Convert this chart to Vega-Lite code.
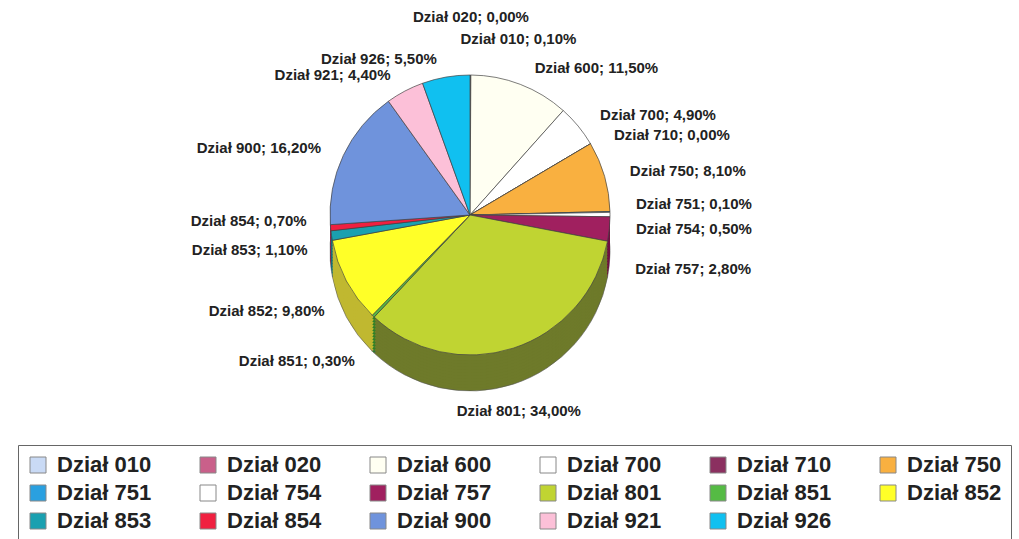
{
  "$schema": "https://vega.github.io/schema/vega-lite/v6.json",
  "width": 940,
  "height": 430,
  "autosize": {"type": "none"},
  "padding": {"left": 0, "top": 0, "right": 79, "bottom": 109},
  "background": "white",
  "config": {"view": {"stroke": null}},
  "data": {
    "values": [
      {"Dział": "Dział 010", "value": 0.1, "label": "Dział 010; 0,10%"},
      {"Dział": "Dział 020", "value": 0.0, "label": "Dział 020; 0,00%"},
      {"Dział": "Dział 600", "value": 11.5, "label": "Dział 600; 11,50%"},
      {"Dział": "Dział 700", "value": 4.9, "label": "Dział 700; 4,90%"},
      {"Dział": "Dział 710", "value": 0.0, "label": "Dział 710; 0,00%"},
      {"Dział": "Dział 750", "value": 8.1, "label": "Dział 750; 8,10%"},
      {"Dział": "Dział 751", "value": 0.1, "label": "Dział 751; 0,10%"},
      {"Dział": "Dział 754", "value": 0.5, "label": "Dział 754; 0,50%"},
      {"Dział": "Dział 757", "value": 2.8, "label": "Dział 757; 2,80%"},
      {"Dział": "Dział 801", "value": 34.0, "label": "Dział 801; 34,00%"},
      {"Dział": "Dział 851", "value": 0.3, "label": "Dział 851; 0,30%"},
      {"Dział": "Dział 852", "value": 9.8, "label": "Dział 852; 9,80%"},
      {"Dział": "Dział 853", "value": 1.1, "label": "Dział 853; 1,10%"},
      {"Dział": "Dział 854", "value": 0.7, "label": "Dział 854; 0,70%"},
      {"Dział": "Dział 900", "value": 16.2, "label": "Dział 900; 16,20%"},
      {"Dział": "Dział 921", "value": 4.4, "label": "Dział 921; 4,40%"},
      {"Dział": "Dział 926", "value": 5.5, "label": "Dział 926; 5,50%"}
    ]
  },
  "resolve": {"scale": {"color": "independent"}},
  "layer": [
    {"mark": {"type": "arc", "outerRadius": 140, "yOffset": 36, "stroke": "#555", "strokeWidth": 0.6},
     "encoding": {"theta": {"field": "value", "type": "quantitative", "stack": true}, "order": {"field": "Dział", "type": "ordinal", "sort": "ascending"},
       "color": {"field": "Dział", "type": "nominal", "legend": null, "scale": {"domain": ["Dział 010","Dział 020","Dział 600","Dział 700","Dział 710","Dział 750","Dział 751","Dział 754","Dział 757","Dział 801","Dział 851","Dział 852","Dział 853","Dział 854","Dział 900","Dział 921","Dział 926"], "range": ["#8c9ab0","#8a4060","#b8b8a8","#b8b8b8","#5a1a3e","#b07a28","#1a70a0","#b8b8b8","#701040","#6e7a2a","#2f8028","#c0b830","#107080","#a01028","#4a66a0","#c090a8","#0a88b0"]}}}},
    {"mark": {"type": "arc", "outerRadius": 140, "yOffset": 33, "strokeWidth": 0},
     "encoding": {"theta": {"field": "value", "type": "quantitative", "stack": true}, "order": {"field": "Dział", "type": "ordinal", "sort": "ascending"},
       "color": {"field": "Dział", "type": "nominal", "legend": null, "scale": {"domain": ["Dział 010","Dział 020","Dział 600","Dział 700","Dział 710","Dział 750","Dział 751","Dział 754","Dział 757","Dział 801","Dział 851","Dział 852","Dział 853","Dział 854","Dział 900","Dział 921","Dział 926"], "range": ["#8c9ab0","#8a4060","#b8b8a8","#b8b8b8","#5a1a3e","#b07a28","#1a70a0","#b8b8b8","#701040","#6e7a2a","#2f8028","#c0b830","#107080","#a01028","#4a66a0","#c090a8","#0a88b0"]}}}},
    {"mark": {"type": "arc", "outerRadius": 140, "yOffset": 30, "strokeWidth": 0},
     "encoding": {"theta": {"field": "value", "type": "quantitative", "stack": true}, "order": {"field": "Dział", "type": "ordinal", "sort": "ascending"},
       "color": {"field": "Dział", "type": "nominal", "legend": null, "scale": {"domain": ["Dział 010","Dział 020","Dział 600","Dział 700","Dział 710","Dział 750","Dział 751","Dział 754","Dział 757","Dział 801","Dział 851","Dział 852","Dział 853","Dział 854","Dział 900","Dział 921","Dział 926"], "range": ["#8c9ab0","#8a4060","#b8b8a8","#b8b8b8","#5a1a3e","#b07a28","#1a70a0","#b8b8b8","#701040","#6e7a2a","#2f8028","#c0b830","#107080","#a01028","#4a66a0","#c090a8","#0a88b0"]}}}},
    {"mark": {"type": "arc", "outerRadius": 140, "yOffset": 27, "strokeWidth": 0},
     "encoding": {"theta": {"field": "value", "type": "quantitative", "stack": true}, "order": {"field": "Dział", "type": "ordinal", "sort": "ascending"},
       "color": {"field": "Dział", "type": "nominal", "legend": null, "scale": {"domain": ["Dział 010","Dział 020","Dział 600","Dział 700","Dział 710","Dział 750","Dział 751","Dział 754","Dział 757","Dział 801","Dział 851","Dział 852","Dział 853","Dział 854","Dział 900","Dział 921","Dział 926"], "range": ["#8c9ab0","#8a4060","#b8b8a8","#b8b8b8","#5a1a3e","#b07a28","#1a70a0","#b8b8b8","#701040","#6e7a2a","#2f8028","#c0b830","#107080","#a01028","#4a66a0","#c090a8","#0a88b0"]}}}},
    {"mark": {"type": "arc", "outerRadius": 140, "yOffset": 24, "strokeWidth": 0},
     "encoding": {"theta": {"field": "value", "type": "quantitative", "stack": true}, "order": {"field": "Dział", "type": "ordinal", "sort": "ascending"},
       "color": {"field": "Dział", "type": "nominal", "legend": null, "scale": {"domain": ["Dział 010","Dział 020","Dział 600","Dział 700","Dział 710","Dział 750","Dział 751","Dział 754","Dział 757","Dział 801","Dział 851","Dział 852","Dział 853","Dział 854","Dział 900","Dział 921","Dział 926"], "range": ["#8c9ab0","#8a4060","#b8b8a8","#b8b8b8","#5a1a3e","#b07a28","#1a70a0","#b8b8b8","#701040","#6e7a2a","#2f8028","#c0b830","#107080","#a01028","#4a66a0","#c090a8","#0a88b0"]}}}},
    {"mark": {"type": "arc", "outerRadius": 140, "yOffset": 21, "strokeWidth": 0},
     "encoding": {"theta": {"field": "value", "type": "quantitative", "stack": true}, "order": {"field": "Dział", "type": "ordinal", "sort": "ascending"},
       "color": {"field": "Dział", "type": "nominal", "legend": null, "scale": {"domain": ["Dział 010","Dział 020","Dział 600","Dział 700","Dział 710","Dział 750","Dział 751","Dział 754","Dział 757","Dział 801","Dział 851","Dział 852","Dział 853","Dział 854","Dział 900","Dział 921","Dział 926"], "range": ["#8c9ab0","#8a4060","#b8b8a8","#b8b8b8","#5a1a3e","#b07a28","#1a70a0","#b8b8b8","#701040","#6e7a2a","#2f8028","#c0b830","#107080","#a01028","#4a66a0","#c090a8","#0a88b0"]}}}},
    {"mark": {"type": "arc", "outerRadius": 140, "yOffset": 18, "strokeWidth": 0},
     "encoding": {"theta": {"field": "value", "type": "quantitative", "stack": true}, "order": {"field": "Dział", "type": "ordinal", "sort": "ascending"},
       "color": {"field": "Dział", "type": "nominal", "legend": null, "scale": {"domain": ["Dział 010","Dział 020","Dział 600","Dział 700","Dział 710","Dział 750","Dział 751","Dział 754","Dział 757","Dział 801","Dział 851","Dział 852","Dział 853","Dział 854","Dział 900","Dział 921","Dział 926"], "range": ["#8c9ab0","#8a4060","#b8b8a8","#b8b8b8","#5a1a3e","#b07a28","#1a70a0","#b8b8b8","#701040","#6e7a2a","#2f8028","#c0b830","#107080","#a01028","#4a66a0","#c090a8","#0a88b0"]}}}},
    {"mark": {"type": "arc", "outerRadius": 140, "yOffset": 15, "strokeWidth": 0},
     "encoding": {"theta": {"field": "value", "type": "quantitative", "stack": true}, "order": {"field": "Dział", "type": "ordinal", "sort": "ascending"},
       "color": {"field": "Dział", "type": "nominal", "legend": null, "scale": {"domain": ["Dział 010","Dział 020","Dział 600","Dział 700","Dział 710","Dział 750","Dział 751","Dział 754","Dział 757","Dział 801","Dział 851","Dział 852","Dział 853","Dział 854","Dział 900","Dział 921","Dział 926"], "range": ["#8c9ab0","#8a4060","#b8b8a8","#b8b8b8","#5a1a3e","#b07a28","#1a70a0","#b8b8b8","#701040","#6e7a2a","#2f8028","#c0b830","#107080","#a01028","#4a66a0","#c090a8","#0a88b0"]}}}},
    {"mark": {"type": "arc", "outerRadius": 140, "yOffset": 12, "strokeWidth": 0},
     "encoding": {"theta": {"field": "value", "type": "quantitative", "stack": true}, "order": {"field": "Dział", "type": "ordinal", "sort": "ascending"},
       "color": {"field": "Dział", "type": "nominal", "legend": null, "scale": {"domain": ["Dział 010","Dział 020","Dział 600","Dział 700","Dział 710","Dział 750","Dział 751","Dział 754","Dział 757","Dział 801","Dział 851","Dział 852","Dział 853","Dział 854","Dział 900","Dział 921","Dział 926"], "range": ["#8c9ab0","#8a4060","#b8b8a8","#b8b8b8","#5a1a3e","#b07a28","#1a70a0","#b8b8b8","#701040","#6e7a2a","#2f8028","#c0b830","#107080","#a01028","#4a66a0","#c090a8","#0a88b0"]}}}},
    {"mark": {"type": "arc", "outerRadius": 140, "yOffset": 9, "strokeWidth": 0},
     "encoding": {"theta": {"field": "value", "type": "quantitative", "stack": true}, "order": {"field": "Dział", "type": "ordinal", "sort": "ascending"},
       "color": {"field": "Dział", "type": "nominal", "legend": null, "scale": {"domain": ["Dział 010","Dział 020","Dział 600","Dział 700","Dział 710","Dział 750","Dział 751","Dział 754","Dział 757","Dział 801","Dział 851","Dział 852","Dział 853","Dział 854","Dział 900","Dział 921","Dział 926"], "range": ["#8c9ab0","#8a4060","#b8b8a8","#b8b8b8","#5a1a3e","#b07a28","#1a70a0","#b8b8b8","#701040","#6e7a2a","#2f8028","#c0b830","#107080","#a01028","#4a66a0","#c090a8","#0a88b0"]}}}},
    {"mark": {"type": "arc", "outerRadius": 140, "yOffset": 6, "strokeWidth": 0},
     "encoding": {"theta": {"field": "value", "type": "quantitative", "stack": true}, "order": {"field": "Dział", "type": "ordinal", "sort": "ascending"},
       "color": {"field": "Dział", "type": "nominal", "legend": null, "scale": {"domain": ["Dział 010","Dział 020","Dział 600","Dział 700","Dział 710","Dział 750","Dział 751","Dział 754","Dział 757","Dział 801","Dział 851","Dział 852","Dział 853","Dział 854","Dział 900","Dział 921","Dział 926"], "range": ["#8c9ab0","#8a4060","#b8b8a8","#b8b8b8","#5a1a3e","#b07a28","#1a70a0","#b8b8b8","#701040","#6e7a2a","#2f8028","#c0b830","#107080","#a01028","#4a66a0","#c090a8","#0a88b0"]}}}},
    {"mark": {"type": "arc", "outerRadius": 140, "yOffset": 3, "strokeWidth": 0},
     "encoding": {"theta": {"field": "value", "type": "quantitative", "stack": true}, "order": {"field": "Dział", "type": "ordinal", "sort": "ascending"},
       "color": {"field": "Dział", "type": "nominal", "legend": null, "scale": {"domain": ["Dział 010","Dział 020","Dział 600","Dział 700","Dział 710","Dział 750","Dział 751","Dział 754","Dział 757","Dział 801","Dział 851","Dział 852","Dział 853","Dział 854","Dział 900","Dział 921","Dział 926"], "range": ["#8c9ab0","#8a4060","#b8b8a8","#b8b8b8","#5a1a3e","#b07a28","#1a70a0","#b8b8b8","#701040","#6e7a2a","#2f8028","#c0b830","#107080","#a01028","#4a66a0","#c090a8","#0a88b0"]}}}},
    {"mark": {"type": "arc", "outerRadius": 140, "stroke": "#444", "strokeWidth": 0.7},
     "encoding": {"theta": {"field": "value", "type": "quantitative", "stack": true}, "order": {"field": "Dział", "type": "ordinal", "sort": "ascending"},
       "color": {"field": "Dział", "type": "nominal",
         "scale": {"domain": ["Dział 010","Dział 020","Dział 600","Dział 700","Dział 710","Dział 750","Dział 751","Dział 754","Dział 757","Dział 801","Dział 851","Dział 852","Dział 853","Dział 854","Dział 900","Dział 921","Dział 926"], "range": ["#c9daf5","#c9608a","#fffff2","#ffffff","#8b3060","#f9b040","#2aa0e0","#ffffff","#a0205f","#c0d432","#55bb44","#ffff28","#1aa0b0","#f02040","#6f93dc","#fcc0d8","#10c0f0"]},
         "legend": {"title": null, "orient": "none", "direction": "horizontal", "legendX": 18, "legendY": 445, "columns": 6, "gridAlign": "all", "symbolType": "square", "symbolSize": 256, "symbolStrokeColor": "#888", "symbolStrokeWidth": 1, "symbolOpacity": 1, "labelFont": "Liberation Sans", "labelFontSize": 22, "labelFontWeight": "bold", "labelColor": "#222", "labelOffset": 8, "labelLimit": 300, "columnPadding": 45, "rowPadding": 6, "padding": 9, "strokeColor": "#666", "fillColor": "white"}}}},
    {"mark": {"type": "text", "radius": 158, "align": "center", "baseline": "middle", "dy": -40, "font": "Liberation Sans", "fontWeight": "bold", "fontSize": 15, "color": "#222"},
     "encoding": {"theta": {"field": "value", "type": "quantitative", "stack": true}, "order": {"field": "Dział", "type": "ordinal", "sort": "ascending"},
       "text": {"condition": {"test": "datum['Dział'] === 'Dział 020'", "field": "label"}, "value": ""}}},
    {"mark": {"type": "text", "radius": 158, "align": "left", "baseline": "middle", "dx": -10, "dy": -18, "font": "Liberation Sans", "fontWeight": "bold", "fontSize": 15, "color": "#222"},
     "encoding": {"theta": {"field": "value", "type": "quantitative", "stack": true}, "order": {"field": "Dział", "type": "ordinal", "sort": "ascending"},
       "text": {"condition": {"test": "datum['Dział'] === 'Dział 010'", "field": "label"}, "value": ""}}},
    {"mark": {"type": "text", "radius": 158, "align": "left", "baseline": "middle", "dx": 8, "font": "Liberation Sans", "fontWeight": "bold", "fontSize": 15, "color": "#222"},
     "encoding": {"theta": {"field": "value", "type": "quantitative", "stack": true}, "order": {"field": "Dział", "type": "ordinal", "sort": "ascending"},
       "text": {"condition": {"test": "indexof(['Dział 600','Dział 700','Dział 710','Dział 750'], datum['Dział']) >= 0", "field": "label"}, "value": ""}}},
    {"mark": {"type": "text", "radius": 158, "align": "left", "baseline": "middle", "dx": 8, "dy": -8, "font": "Liberation Sans", "fontWeight": "bold", "fontSize": 15, "color": "#222"},
     "encoding": {"theta": {"field": "value", "type": "quantitative", "stack": true}, "order": {"field": "Dział", "type": "ordinal", "sort": "ascending"},
       "text": {"condition": {"test": "datum['Dział'] === 'Dział 751'", "field": "label"}, "value": ""}}},
    {"mark": {"type": "text", "radius": 158, "align": "left", "baseline": "middle", "dx": 8, "dy": 14, "font": "Liberation Sans", "fontWeight": "bold", "fontSize": 15, "color": "#222"},
     "encoding": {"theta": {"field": "value", "type": "quantitative", "stack": true}, "order": {"field": "Dział", "type": "ordinal", "sort": "ascending"},
       "text": {"condition": {"test": "datum['Dział'] === 'Dział 754'", "field": "label"}, "value": ""}}},
    {"mark": {"type": "text", "radius": 158, "align": "left", "baseline": "middle", "dx": 8, "dy": 38, "font": "Liberation Sans", "fontWeight": "bold", "fontSize": 15, "color": "#222"},
     "encoding": {"theta": {"field": "value", "type": "quantitative", "stack": true}, "order": {"field": "Dział", "type": "ordinal", "sort": "ascending"},
       "text": {"condition": {"test": "datum['Dział'] === 'Dział 757'", "field": "label"}, "value": ""}}},
    {"mark": {"type": "text", "radius": 158, "align": "center", "baseline": "middle", "dy": 46, "font": "Liberation Sans", "fontWeight": "bold", "fontSize": 15, "color": "#222"},
     "encoding": {"theta": {"field": "value", "type": "quantitative", "stack": true}, "order": {"field": "Dział", "type": "ordinal", "sort": "ascending"},
       "text": {"condition": {"test": "datum['Dział'] === 'Dział 801'", "field": "label"}, "value": ""}}},
    {"mark": {"type": "text", "radius": 158, "align": "right", "baseline": "middle", "dx": -6, "dy": 32, "font": "Liberation Sans", "fontWeight": "bold", "fontSize": 15, "color": "#222"},
     "encoding": {"theta": {"field": "value", "type": "quantitative", "stack": true}, "order": {"field": "Dział", "type": "ordinal", "sort": "ascending"},
       "text": {"condition": {"test": "datum['Dział'] === 'Dział 851'", "field": "label"}, "value": ""}}},
    {"mark": {"type": "text", "radius": 158, "align": "right", "baseline": "middle", "dx": -6, "dy": 22, "font": "Liberation Sans", "fontWeight": "bold", "fontSize": 15, "color": "#222"},
     "encoding": {"theta": {"field": "value", "type": "quantitative", "stack": true}, "order": {"field": "Dział", "type": "ordinal", "sort": "ascending"},
       "text": {"condition": {"test": "datum['Dział'] === 'Dział 852'", "field": "label"}, "value": ""}}},
    {"mark": {"type": "text", "radius": 158, "align": "right", "baseline": "middle", "dx": -6, "dy": 12, "font": "Liberation Sans", "fontWeight": "bold", "fontSize": 15, "color": "#222"},
     "encoding": {"theta": {"field": "value", "type": "quantitative", "stack": true}, "order": {"field": "Dział", "type": "ordinal", "sort": "ascending"},
       "text": {"condition": {"test": "datum['Dział'] === 'Dział 853'", "field": "label"}, "value": ""}}},
    {"mark": {"type": "text", "radius": 158, "align": "right", "baseline": "middle", "dx": -6, "dy": -8, "font": "Liberation Sans", "fontWeight": "bold", "fontSize": 15, "color": "#222"},
     "encoding": {"theta": {"field": "value", "type": "quantitative", "stack": true}, "order": {"field": "Dział", "type": "ordinal", "sort": "ascending"},
       "text": {"condition": {"test": "datum['Dział'] === 'Dział 854'", "field": "label"}, "value": ""}}},
    {"mark": {"type": "text", "radius": 158, "align": "right", "baseline": "middle", "dx": -6, "font": "Liberation Sans", "fontWeight": "bold", "fontSize": 15, "color": "#222"},
     "encoding": {"theta": {"field": "value", "type": "quantitative", "stack": true}, "order": {"field": "Dział", "type": "ordinal", "sort": "ascending"},
       "text": {"condition": {"test": "indexof(['Dział 900','Dział 921','Dział 926'], datum['Dział']) >= 0", "field": "label"}, "value": ""}}}
  ]
}
